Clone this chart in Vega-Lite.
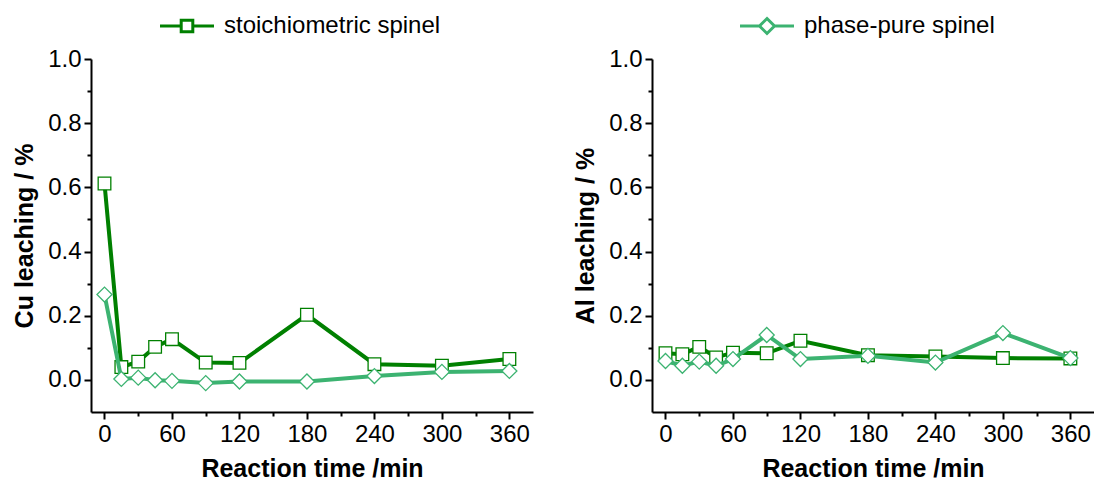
{
  "$schema": "https://vega.github.io/schema/vega-lite/v6.json",
  "padding": {"left": 12, "top": 14, "right": 0, "bottom": 0},
  "background": "white",
  "bounds": "flush",
  "spacing": 119,
  "config": {
    "view": {"stroke": null},
    "font": "Liberation Sans",
    "axis": {
      "grid": false,
      "domainColor": "black",
      "domainWidth": 2,
      "tickColor": "black",
      "tickWidth": 2,
      "labelFont": "Liberation Sans",
      "labelFontSize": 24,
      "labelColor": "black",
      "labelPadding": 3,
      "labelOverlap": false,
      "labelFlush": false,
      "titleFont": "Liberation Sans",
      "titleFontSize": 25,
      "titleFontWeight": "bold",
      "titleColor": "black"
    },
    "legend": {
      "labelFont": "Liberation Sans",
      "labelFontSize": 24,
      "labelColor": "black",
      "labelLimit": 0
    }
  },
  "data": {
    "values": [
      {"panel": "Cu", "series": "stoichiometric spinel", "t": 0, "v": 0.612},
      {"panel": "Cu", "series": "stoichiometric spinel", "t": 15, "v": 0.040},
      {"panel": "Cu", "series": "stoichiometric spinel", "t": 30, "v": 0.057},
      {"panel": "Cu", "series": "stoichiometric spinel", "t": 45, "v": 0.103},
      {"panel": "Cu", "series": "stoichiometric spinel", "t": 60, "v": 0.127},
      {"panel": "Cu", "series": "stoichiometric spinel", "t": 90, "v": 0.054},
      {"panel": "Cu", "series": "stoichiometric spinel", "t": 120, "v": 0.053},
      {"panel": "Cu", "series": "stoichiometric spinel", "t": 180, "v": 0.203},
      {"panel": "Cu", "series": "stoichiometric spinel", "t": 240, "v": 0.049},
      {"panel": "Cu", "series": "stoichiometric spinel", "t": 300, "v": 0.044},
      {"panel": "Cu", "series": "stoichiometric spinel", "t": 360, "v": 0.065},
      {"panel": "Cu", "series": "phase-pure spinel", "t": 0, "v": 0.266},
      {"panel": "Cu", "series": "phase-pure spinel", "t": 15, "v": 0.003},
      {"panel": "Cu", "series": "phase-pure spinel", "t": 30, "v": 0.007},
      {"panel": "Cu", "series": "phase-pure spinel", "t": 45, "v": -0.001},
      {"panel": "Cu", "series": "phase-pure spinel", "t": 60, "v": -0.003},
      {"panel": "Cu", "series": "phase-pure spinel", "t": 90, "v": -0.010},
      {"panel": "Cu", "series": "phase-pure spinel", "t": 120, "v": -0.005},
      {"panel": "Cu", "series": "phase-pure spinel", "t": 180, "v": -0.005},
      {"panel": "Cu", "series": "phase-pure spinel", "t": 240, "v": 0.012},
      {"panel": "Cu", "series": "phase-pure spinel", "t": 300, "v": 0.025},
      {"panel": "Cu", "series": "phase-pure spinel", "t": 360, "v": 0.028},
      {"panel": "Al", "series": "stoichiometric spinel", "t": 0, "v": 0.083},
      {"panel": "Al", "series": "stoichiometric spinel", "t": 15, "v": 0.080},
      {"panel": "Al", "series": "stoichiometric spinel", "t": 30, "v": 0.103},
      {"panel": "Al", "series": "stoichiometric spinel", "t": 45, "v": 0.070},
      {"panel": "Al", "series": "stoichiometric spinel", "t": 60, "v": 0.085},
      {"panel": "Al", "series": "stoichiometric spinel", "t": 90, "v": 0.083},
      {"panel": "Al", "series": "stoichiometric spinel", "t": 120, "v": 0.122},
      {"panel": "Al", "series": "stoichiometric spinel", "t": 180, "v": 0.077},
      {"panel": "Al", "series": "stoichiometric spinel", "t": 240, "v": 0.073},
      {"panel": "Al", "series": "stoichiometric spinel", "t": 300, "v": 0.068},
      {"panel": "Al", "series": "stoichiometric spinel", "t": 360, "v": 0.067},
      {"panel": "Al", "series": "phase-pure spinel", "t": 0, "v": 0.059},
      {"panel": "Al", "series": "phase-pure spinel", "t": 15, "v": 0.044},
      {"panel": "Al", "series": "phase-pure spinel", "t": 30, "v": 0.057},
      {"panel": "Al", "series": "phase-pure spinel", "t": 45, "v": 0.044},
      {"panel": "Al", "series": "phase-pure spinel", "t": 60, "v": 0.065},
      {"panel": "Al", "series": "phase-pure spinel", "t": 90, "v": 0.140},
      {"panel": "Al", "series": "phase-pure spinel", "t": 120, "v": 0.065},
      {"panel": "Al", "series": "phase-pure spinel", "t": 180, "v": 0.075},
      {"panel": "Al", "series": "phase-pure spinel", "t": 240, "v": 0.054},
      {"panel": "Al", "series": "phase-pure spinel", "t": 300, "v": 0.146},
      {"panel": "Al", "series": "phase-pure spinel", "t": 360, "v": 0.068}
    ]
  },
  "resolve": {"scale": {"color": "independent"}, "legend": {"color": "independent"}},
  "hconcat": [
    {
      "width": 442,
      "height": 353,
      "encoding": {
        "x": {
          "field": "t", "type": "quantitative",
          "scale": {"domain": [-12, 381], "nice": false, "zero": false},
          "axis": {
            "title": "Reaction time /min",
            "titlePadding": 10,
            "values": [0, 30, 60, 90, 120, 150, 180, 210, 240, 270, 300, 330, 360],
            "labelExpr": "datum.value % 60 == 0 ? datum.label : ''",
            "tickSize": {"condition": {"test": "datum.value % 60 != 0", "value": 4}, "value": 7}
          }
        },
        "y": {
          "field": "v", "type": "quantitative",
          "scale": {"domain": [-0.1, 1.0], "nice": false, "zero": false},
          "axis": {
            "title": "Cu leaching / %",
            "titlePadding": 10,
            "values": [0, 0.1, 0.2, 0.3, 0.4, 0.5, 0.6, 0.7, 0.8, 0.9, 1.0],
            "labelExpr": "round(datum.value * 10) % 2 == 0 ? format(datum.value, '.1f') : ''",
            "tickSize": {"condition": {"test": "round(datum.value * 10) % 2 != 0", "value": 4}, "value": 7}
          }
        }
      },
      "layer": [
        {
          "transform": [{"filter": "datum.panel == 'Cu' && datum.series == 'stoichiometric spinel'"}],
          "mark": {"type": "line", "strokeWidth": 4, "point": {"shape": "square", "filled": false, "fill": "white", "size": 160, "strokeWidth": 1.3}},
          "encoding": {
            "color": {
              "field": "series", "type": "nominal",
              "scale": {"domain": ["stoichiometric spinel"], "range": ["#008000"]},
              "legend": {
                "title": null,
                "orient": "none",
                "legendX": 84,
                "legendY": -45,
                "padding": 0,
                "symbolType": "M-2.7,0H-0.58M0.58,0H2.7M-0.58,-0.58H0.58V0.58H-0.58Z",
                "symbolSize": 400,
                "symbolStrokeWidth": 3,
                "symbolFillColor": "white",
                "labelOffset": 25
              }
            }
          }
        },
        {
          "transform": [{"filter": "datum.panel == 'Cu' && datum.series == 'phase-pure spinel'"}],
          "mark": {"type": "line", "strokeWidth": 4, "color": "#3cb371", "point": {"shape": "diamond", "filled": false, "fill": "white", "color": "#3cb371", "size": 225, "strokeWidth": 1.3}}
        }
      ]
    },
    {
      "width": 442,
      "height": 353,
      "encoding": {
        "x": {
          "field": "t", "type": "quantitative",
          "scale": {"domain": [-12, 381], "nice": false, "zero": false},
          "axis": {
            "title": "Reaction time /min",
            "titlePadding": 10,
            "values": [0, 30, 60, 90, 120, 150, 180, 210, 240, 270, 300, 330, 360],
            "labelExpr": "datum.value % 60 == 0 ? datum.label : ''",
            "tickSize": {"condition": {"test": "datum.value % 60 != 0", "value": 4}, "value": 7}
          }
        },
        "y": {
          "field": "v", "type": "quantitative",
          "scale": {"domain": [-0.1, 1.0], "nice": false, "zero": false},
          "axis": {
            "title": "Al leaching / %",
            "titlePadding": 10,
            "values": [0, 0.1, 0.2, 0.3, 0.4, 0.5, 0.6, 0.7, 0.8, 0.9, 1.0],
            "labelExpr": "round(datum.value * 10) % 2 == 0 ? format(datum.value, '.1f') : ''",
            "tickSize": {"condition": {"test": "round(datum.value * 10) % 2 != 0", "value": 4}, "value": 7}
          }
        }
      },
      "layer": [
        {
          "transform": [{"filter": "datum.panel == 'Al' && datum.series == 'stoichiometric spinel'"}],
          "mark": {"type": "line", "strokeWidth": 4, "color": "#008000", "point": {"shape": "square", "filled": false, "fill": "white", "color": "#008000", "size": 160, "strokeWidth": 1.3}}
        },
        {
          "transform": [{"filter": "datum.panel == 'Al' && datum.series == 'phase-pure spinel'"}],
          "mark": {"type": "line", "strokeWidth": 4, "point": {"shape": "diamond", "filled": false, "fill": "white", "size": 225, "strokeWidth": 1.3}},
          "encoding": {
            "color": {
              "field": "series", "type": "nominal",
              "scale": {"domain": ["phase-pure spinel"], "range": ["#3cb371"]},
              "legend": {
                "title": null,
                "orient": "none",
                "legendX": 103,
                "legendY": -45,
                "padding": 0,
                "symbolType": "M-2.7,0H-0.75M0.75,0H2.7M0,-0.75L0.75,0L0,0.75L-0.75,0Z",
                "symbolSize": 400,
                "symbolStrokeWidth": 3,
                "symbolFillColor": "white",
                "labelOffset": 25
              }
            }
          }
        }
      ]
    }
  ]
}
